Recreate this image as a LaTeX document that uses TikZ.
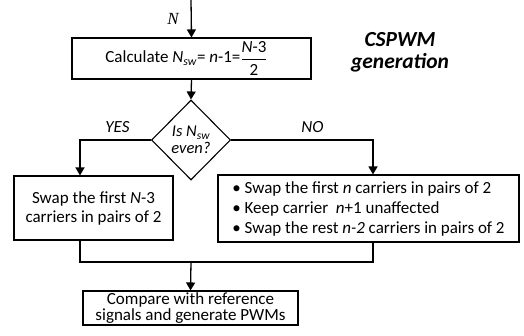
\documentclass[tikz,border=0pt]{standalone}
\usepackage{fontspec}
\setmainfont{Carlito}
\newfontfamily\timesfont{Liberation Serif}
\usetikzlibrary{shapes.geometric,arrows.meta}
\begin{document}
\begin{tikzpicture}[x=1pt,y=-1pt,
  box/.style={draw,line width=1.1pt,rectangle,inner sep=0pt,align=center,font=\fontsize{17}{19}\selectfont},
  conn/.style={line width=1.3pt},
  arr/.style={line width=1.3pt,-{Triangle[length=8pt,width=9pt]}},
  lbl/.style={font=\fontsize{17}{19}\selectfont\itshape}]
\useasboundingbox (0,0) rectangle (524,335);
\coordinate (start) at (191,0);
\node[box,minimum width=239pt,minimum height=41pt] (calc) at (191.5,58.5)
  {Calculate \textit{N}\textsubscript{\textit{sw}}= \textit{n}-1=\raisebox{-1.5pt}{$\displaystyle\frac{\mbox{\textit{N}-3}}{\mbox{2}}$}\hspace*{10pt}};
\node[font=\timesfont\itshape\fontsize{17}{19}\selectfont] (N) at (173,19) {N};
\node[font=\fontsize{21.5}{22}\selectfont\bfseries\itshape,align=center] (title) at (400,52) {CSPWM\\generation};
\node[draw,line width=1.1pt,diamond,minimum width=79pt,minimum height=80pt,inner sep=0pt,align=center,font=\fontsize{16.5}{16.5}\selectfont\itshape] (dec) at (191,140)
  {Is N\textsubscript{sw}\\even?};
\node[box,minimum width=159pt,minimum height=64pt] (left) at (93.5,208)
  {Swap the first \textit{N}-3\\carriers in pairs of 2};
\node[box,minimum width=301pt,minimum height=67pt,align=left,font=\fontsize{17}{20}\selectfont] (right) at (368.5,208.5)
  {\textbullet\ Swap the first \textit{n} carriers in pairs of 2\\
   \textbullet\ Keep carrier \ \textit{n}+1 unaffected\\
   \textbullet\ Swap the rest \textit{n-2} carriers in pairs of 2};
\node[box,minimum width=215pt,minimum height=34pt,font=\fontsize{17}{15.5}\selectfont] (final) at (190.5,308)
  {Compare with reference\\signals and generate PWMs};
\coordinate (lx) at (80,0);
\coordinate (rx) at (373,0);
\coordinate (merge) at (191,262);
\draw[arr] (start) -- (calc.north);
\draw[arr] (calc.south) -- (dec.north);
\draw[arr] (dec.west) -| (lx |- left.north);
\draw[arr] (dec.east) -| (rx |- right.north);
\node[lbl] (yes) at (117.5,127) {YES};
\node[lbl] (no) at (312.5,127) {NO};
\draw[conn] (lx |- left.south) -- (lx |- merge) -- (rx |- merge) -- (rx |- right.south);
\draw[arr] (merge) -- (final.north);
\end{tikzpicture}
\end{document}
